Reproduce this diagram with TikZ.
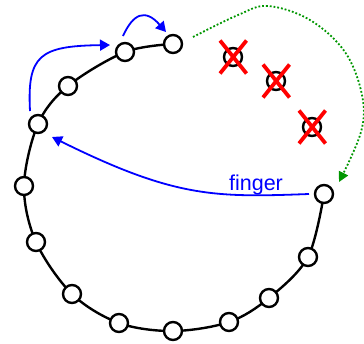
\documentclass[tikz,border=0pt]{standalone}
\usepackage{fontspec}
\setmainfont{Liberation Sans}
\usetikzlibrary{arrows.meta,calc}
\definecolor{dotgreen}{RGB}{0,150,0}
\begin{document}
\begin{tikzpicture}[x=1pt,y=-1pt,
  ring/.style={circle,draw=black,fill=white,line width=2.4pt,minimum size=18pt,inner sep=0pt},
  gone/.style={circle,draw=black,line width=2.4pt,minimum size=18pt,inner sep=0pt},
  arc/.style={line width=2.4pt,black},
  bluearrow/.style={blue,line width=1.8pt,-{Triangle[length=10pt,width=11pt]}},
  greenarrow/.style={dotgreen,line width=1.8pt,dash pattern=on 1.8pt off 2pt,-{Triangle[length=10pt,width=10pt]}},
  cross/.style={red,line width=3.8pt}]
\useasboundingbox (0,0) rectangle (364,343);
% ring positions
\coordinate (c1) at (173,44);
\coordinate (c2) at (125,52);
\coordinate (c3) at (68,86);
\coordinate (c4) at (38,124);
\coordinate (c5) at (24,186);
\coordinate (c6) at (36,242);
\coordinate (c7) at (72,294);
\coordinate (c8) at (119,323);
\coordinate (c9) at (173,331);
\coordinate (c10) at (229,322);
\coordinate (c11) at (269,298);
\coordinate (c12) at (308,257);
\coordinate (c13) at (324,194);
\draw[arc] plot[smooth,tension=0.55] coordinates {(c1) (c2) (c3) (c4) (c5) (c6) (c7) (c8) (c9) (c10) (c11) (c12) (c13)};
\foreach \i in {1,...,13} \node[ring] (n\i) at (c\i) {};
% removed nodes
\node[gone] (x1) at (233,57) {};
\node[gone] (x2) at (276,81) {};
\node[gone] (x3) at (312,127) {};
\foreach \n in {x1,x2,x3} {
  \draw[cross] ($(\n)+(-13,-16.5)$) -- ($(\n)+(13.5,16.5)$);
  \draw[cross] ($(\n)+(13.5,-16.5)$) -- ($(\n)+(-13,16.5)$);
}
% blue arrows
\coordinate (b1s) at (30,111);
\coordinate (b1e) at (110,45);
\draw[bluearrow] (b1s) .. controls (27,55) and (40,46) .. (b1e);
\coordinate (b2s) at (123,36);
\coordinate (b2e) at (166,32);
\draw[bluearrow] (b2s) .. controls (133,14) and (145,8) .. (b2e);
\coordinate (b3s) at (309,194);
\coordinate (b3e) at (52,137);
\draw[bluearrow] (b3s) .. controls (215,197.5) and (175,198) .. (b3e);
\node[blue,anchor=base,inner sep=0pt,font=\fontsize{21.5}{24}\selectfont] (finger) at (256,190.5) {finger};
% green dotted
\coordinate (g1) at (193,37);
\coordinate (g2) at (339,182);
\draw[greenarrow] plot[smooth,tension=0.6] coordinates {(g1) (238,15) (268,6) (310,20) (345,52) (362,95) (361,132) (g2)};
\end{tikzpicture}
\end{document}
